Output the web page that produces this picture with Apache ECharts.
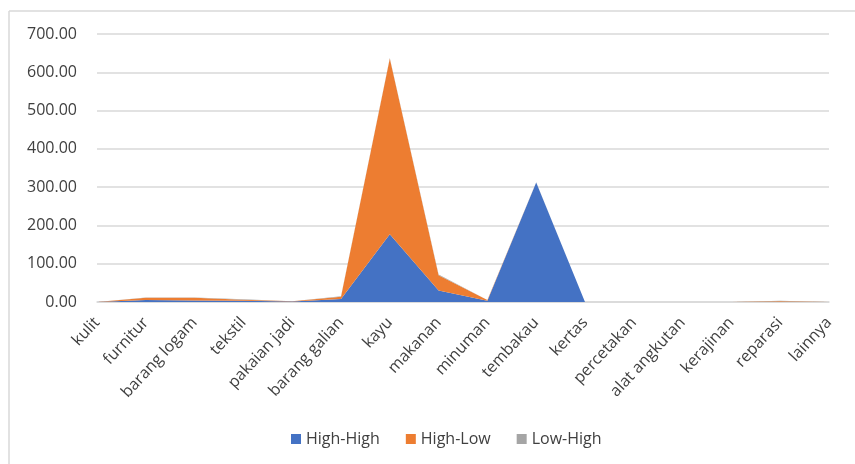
<!DOCTYPE html>
<html><head><meta charset="utf-8">
<script src="https://cdn.jsdelivr.net/npm/echarts@6/dist/echarts.min.js"></script>
<style>html,body{margin:0;padding:0;background:#fff}#c{width:855px;height:464px}</style>
</head><body><div id="c"></div>
<script>
const categories = ['kulit','furnitur','barang logam','tekstil','pakaian jadi','barang galian','kayu','makanan','minuman','tembakau','kertas','percetakan','alat angkutan','kerajinan','reparasi','lainnya'];
const highHigh = [0, 5, 4, 3, 1, 8, 177, 30, 3, 312, 0, 0, 0, 0, 0, 0];
const highLow  = [0, 6, 7, 3, 1, 6, 459, 40, 2, 0, 0, 0, 0, 0, 2, 0];
const lowHigh  = [0, 1, 1, 1, 0, 1, 1, 2, 0, 1, 0, 0, 0, 0, 1, 0];
const yTicks = [0, 100, 200, 300, 400, 500, 600, 700];

const chart = echarts.init(document.getElementById('c'));
const mk = (name, data, color) => ({
  name, type: 'line', stack: 'total', data, symbol: 'none',
  lineStyle: { width: 0 }, areaStyle: { color: color, opacity: 1 },
  itemStyle: { color: color }
});
chart.setOption({
  animation: false,
  textStyle: { fontFamily: 'Open Sans, Noto Sans, sans-serif' },
  grid: { left: 97, right: 26, top: 34, bottom: 162, containLabel: false },
  xAxis: {
    type: 'category', data: categories, boundaryGap: false,
    axisLine: { lineStyle: { color: '#d9d9d9', width: 1.5 } },
    axisTick: { show: false },
    axisLabel: { rotate: 47, color: '#404040', fontSize: 16, margin: 18, interval: 0 }
  },
  yAxis: {
    type: 'value', min: yTicks[0], max: yTicks[yTicks.length - 1], interval: 100,
    axisLine: { show: false }, axisTick: { show: false },
    axisLabel: { color: '#404040', fontSize: 16, margin: 20, formatter: v => v.toFixed(2) },
    splitLine: { lineStyle: { color: '#d9d9d9', width: 1.5 } }
  },
  legend: {
    bottom: 12, left: 286, itemWidth: 10, itemHeight: 10, itemGap: 26,
    icon: 'rect', textStyle: { color: '#404040', fontSize: 16 },
    data: ['High-High', 'High-Low', 'Low-High']
  },
  graphic: [
    { type: 'line', shape: { x1: 9, y1: 11, x2: 855, y2: 11 }, style: { stroke: '#d9d9d9', lineWidth: 1.5 } },
    { type: 'line', shape: { x1: 9, y1: 11, x2: 9, y2: 464 }, style: { stroke: '#d9d9d9', lineWidth: 1.5 } }
  ],
  series: [
    mk('High-High', highHigh, '#4472c4'),
    mk('High-Low', highLow, '#ed7d31'),
    mk('Low-High', lowHigh, '#a5a5a5')
  ]
});
</script></body></html>
